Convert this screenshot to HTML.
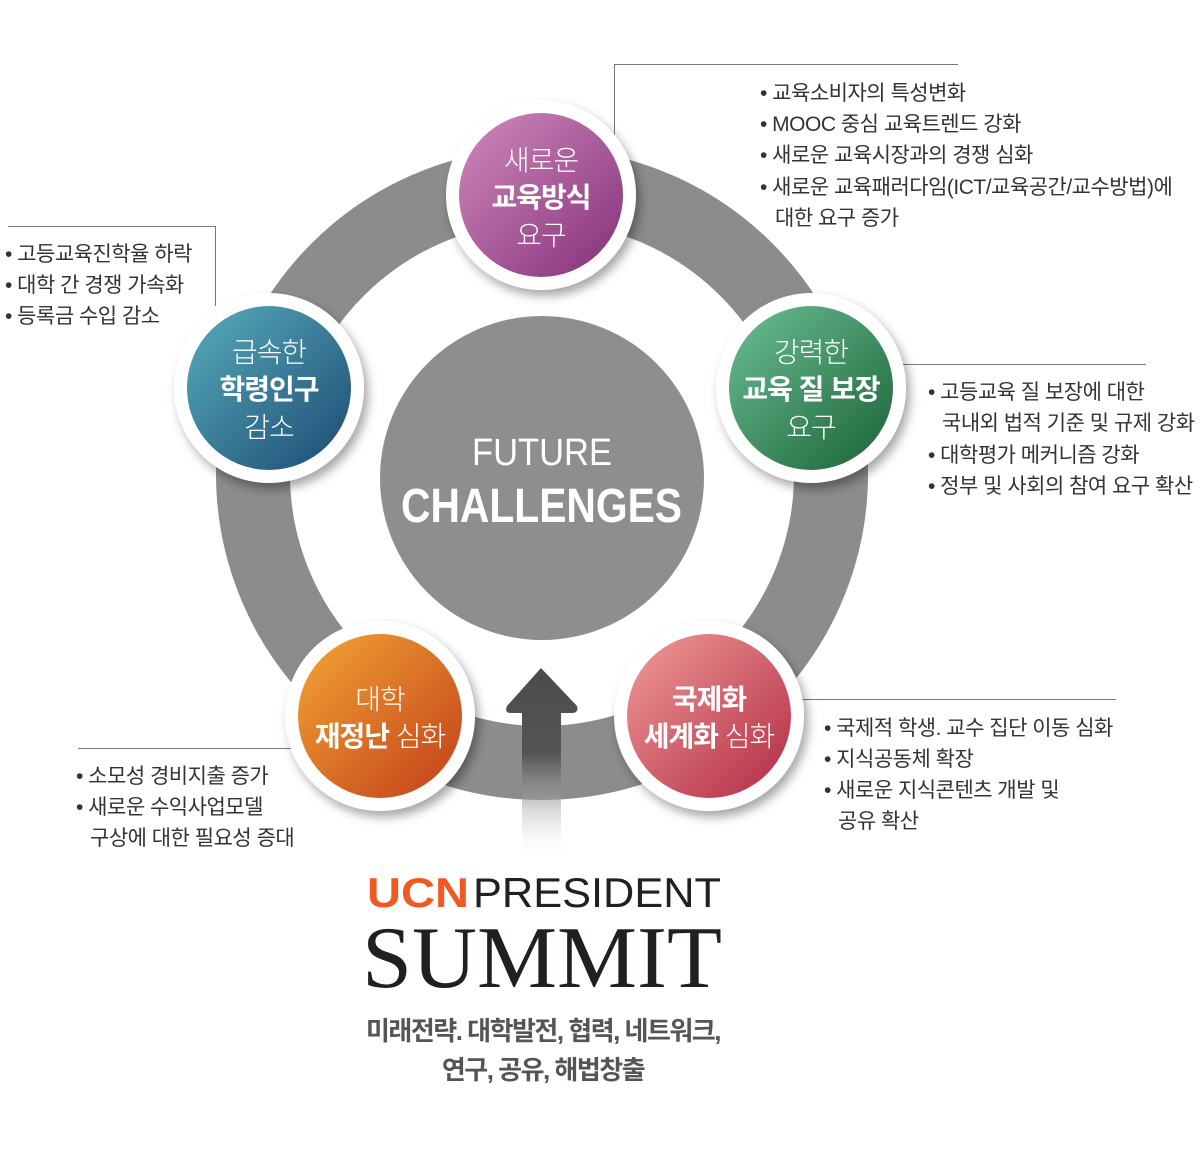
<!DOCTYPE html>
<html><head><meta charset="utf-8"><style>
html,body{margin:0;padding:0;background:#fff;width:1200px;height:1155px;overflow:hidden}
svg{display:block}
text{font-family:"Liberation Sans","Noto Sans CJK KR",sans-serif}
.b{font-size:21px;fill:#333;letter-spacing:-0.5px}
.n{font-size:28px;fill:#fff;text-anchor:middle;font-weight:300;letter-spacing:-1px}
.nb{font-weight:700}
</style></head><body>
<svg width="1200" height="1155" viewBox="0 0 1200 1155" xmlns="http://www.w3.org/2000/svg">
<defs>
<linearGradient id="gp" x1="0" y1="0" x2="1" y2="1"><stop offset="0" stop-color="#d08abb"/><stop offset="1" stop-color="#84307a"/></linearGradient>
<linearGradient id="gt" x1="0" y1="0" x2="1" y2="1"><stop offset="0" stop-color="#58adbb"/><stop offset="1" stop-color="#1c4a74"/></linearGradient>
<linearGradient id="gg" x1="0" y1="0" x2="1" y2="1"><stop offset="0" stop-color="#6cbf95"/><stop offset="1" stop-color="#1a6236"/></linearGradient>
<linearGradient id="go" x1="0" y1="0" x2="1" y2="1"><stop offset="0" stop-color="#f3a634"/><stop offset="1" stop-color="#c23e1a"/></linearGradient>
<linearGradient id="gr" x1="0" y1="0" x2="1" y2="1"><stop offset="0" stop-color="#f09c98"/><stop offset="1" stop-color="#b22a44"/></linearGradient>
<linearGradient id="ga" x1="0" y1="0" x2="0" y2="1"><stop offset="0" stop-color="#4a4b4e"/><stop offset="0.45" stop-color="#555"/><stop offset="1" stop-color="#fff" stop-opacity="0"/></linearGradient>
<filter id="sh" x="-20%" y="-20%" width="150%" height="150%"><feDropShadow dx="4" dy="6" stdDeviation="5" flood-color="#000" flood-opacity="0.35"/></filter>
</defs>
<circle cx="542" cy="474" r="289" fill="none" stroke="#8c8b8d" stroke-width="74"/>
<circle cx="542" cy="478" r="162" fill="#8e8d8f"/>
<text x="472" y="465" textLength="140" lengthAdjust="spacingAndGlyphs" style="font-size:38px;fill:#fff;font-weight:300">FUTURE</text>
<text x="401" y="522" textLength="281" lengthAdjust="spacingAndGlyphs" style="font-size:48px;fill:#fff;font-weight:700">CHALLENGES</text>
<path d="M541 668 L577 706 Q579 713 572 713 L561 713 L561 860 L522 860 L522 713 L511 713 Q504 713 507 706 Z" fill="url(#ga)"/>
<g stroke="#777" stroke-width="1" fill="none">
<path d="M958 64.5 H614.5 V135"/>
<path d="M8 226.5 H215.5 V306"/>
<path d="M900 364.5 H1146"/>
<path d="M800 699.5 H1116"/>
<path d="M78 748.5 H300"/>
</g>
<g filter="url(#sh)">
<circle cx="541" cy="195" r="95" fill="#fff"/>
<circle cx="269" cy="388" r="95" fill="#fff"/>
<circle cx="811" cy="388" r="95" fill="#fff"/>
<circle cx="380" cy="716" r="95" fill="#fff"/>
<circle cx="709" cy="716" r="95" fill="#fff"/>
</g>
<circle cx="541" cy="195" r="82" fill="url(#gp)"/>
<circle cx="269" cy="388" r="82" fill="url(#gt)"/>
<circle cx="811" cy="388" r="82" fill="url(#gg)"/>
<circle cx="380" cy="716" r="82" fill="url(#go)"/>
<circle cx="709" cy="716" r="82" fill="url(#gr)"/>
<text class="n" x="541" y="170">새로운</text>
<text class="n nb" x="541" y="207">교육방식</text>
<text class="n" x="541" y="245">요구</text>
<text class="n" x="269" y="362">급속한</text>
<text class="n nb" x="269" y="399">학령인구</text>
<text class="n" x="269" y="437">감소</text>
<text class="n" x="811" y="362">강력한</text>
<text class="n nb" x="811" y="399">교육 질 보장</text>
<text class="n" x="811" y="437">요구</text>
<text class="n" x="380" y="709">대학</text>
<text class="n" x="380" y="746"><tspan class="nb">재정난</tspan> 심화</text>
<text class="n nb" x="709" y="709">국제화</text>
<text class="n" x="709" y="746"><tspan class="nb">세계화</tspan> 심화</text>
<text class="b" x="760" y="100">• 교육소비자의 특성변화</text>
<text class="b" x="760" y="131">• MOOC 중심 교육트렌드 강화</text>
<text class="b" x="760" y="162">• 새로운 교육시장과의 경쟁 심화</text>
<text class="b" x="760" y="194">• 새로운 교육패러다임(ICT/교육공간/교수방법)에</text>
<text class="b" x="775" y="225">대한 요구 증가</text>
<text class="b" x="5" y="261">• 고등교육진학율 하락</text>
<text class="b" x="5" y="292">• 대학 간 경쟁 가속화</text>
<text class="b" x="5" y="323">• 등록금 수입 감소</text>
<text class="b" x="928" y="399">• 고등교육 질 보장에 대한</text>
<text class="b" x="942" y="430">국내외 법적 기준 및 규제 강화</text>
<text class="b" x="928" y="462">• 대학평가 메커니즘 강화</text>
<text class="b" x="928" y="493">• 정부 및 사회의 참여 요구 확산</text>
<text class="b" x="824" y="735">• 국제적 학생. 교수 집단 이동 심화</text>
<text class="b" x="824" y="766">• 지식공동체 확장</text>
<text class="b" x="824" y="797">• 새로운 지식콘텐츠 개발 및</text>
<text class="b" x="838" y="828">공유 확산</text>
<text class="b" x="76" y="783">• 소모성 경비지출 증가</text>
<text class="b" x="76" y="814">• 새로운 수익사업모델</text>
<text class="b" x="90" y="845">구상에 대한 필요성 증대</text>
<text x="367" y="907" textLength="102" lengthAdjust="spacingAndGlyphs" style="font-size:42px;font-weight:700;fill:#f05a22">UCN</text>
<text x="473" y="907" textLength="248" lengthAdjust="spacingAndGlyphs" style="font-size:42px;fill:#231f20">PRESIDENT</text>
<text x="362" y="987" textLength="360" lengthAdjust="spacingAndGlyphs" style="font-family:'Liberation Serif','DejaVu Serif',serif;font-size:88px;fill:#231f20">SUMMIT</text>
<text x="543" y="1040" text-anchor="middle" style="font-size:26px;font-weight:700;fill:#555;letter-spacing:-1.5px">미래전략. 대학발전, 협력, 네트워크,</text>
<text x="543" y="1079" text-anchor="middle" style="font-size:26px;font-weight:700;fill:#555;letter-spacing:-1.5px">연구, 공유, 해법창출</text>
</svg>
</body></html>
